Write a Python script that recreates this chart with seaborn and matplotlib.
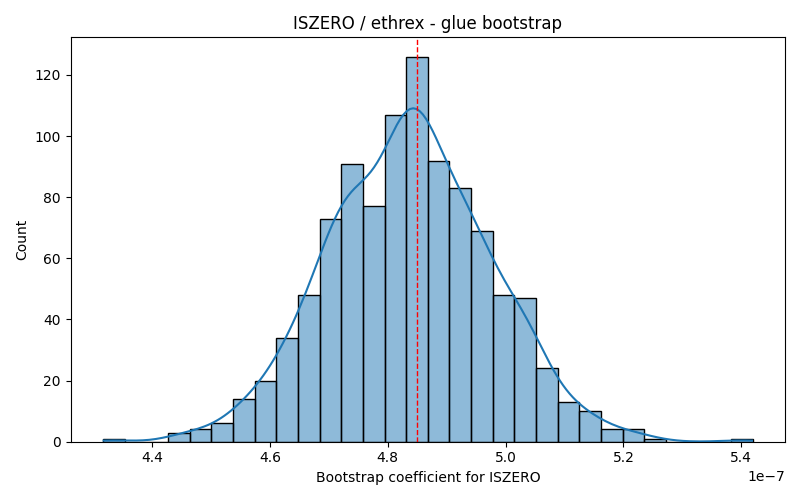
import numpy as np
import pandas as pd
import matplotlib
matplotlib.use("Agg")
import matplotlib.pyplot as plt
import seaborn as sns

# Histogram (30 bins, 1000 bootstrap samples)
bin_lo = 4.317e-7
bin_hi = 5.419e-7
counts = [1, 0, 0, 3, 4, 6, 14, 20, 34, 48, 73, 91, 77, 107, 126,
          92, 83, 69, 48, 47, 24, 13, 10, 4, 4, 1, 0, 0, 0, 1]
ref_value = 4.849e-7

title = "ISZERO / ethrex - glue bootstrap"
xlabel = "Bootstrap coefficient for ISZERO"
ylabel = "Count"

edges = np.linspace(bin_lo, bin_hi, len(counts) + 1)
centers = (edges[:-1] + edges[1:]) / 2
# one sample per counted observation, placed at its bin centre
samples = pd.DataFrame({"coef": np.repeat(centers, counts)})

fig, ax = plt.subplots(figsize=(8, 5), dpi=100)
sns.histplot(data=samples, x="coef", bins=len(counts),
             binrange=(bin_lo, bin_hi), kde=True,
             kde_kws={"cut": 0.5}, ax=ax)
ax.axvline(ref_value, color="red", linestyle="--", linewidth=1)
ax.set_title(title)
ax.set_xlabel(xlabel)
ax.set_ylabel(ylabel)
fig.tight_layout()
fig.savefig("out.png", dpi=100)
